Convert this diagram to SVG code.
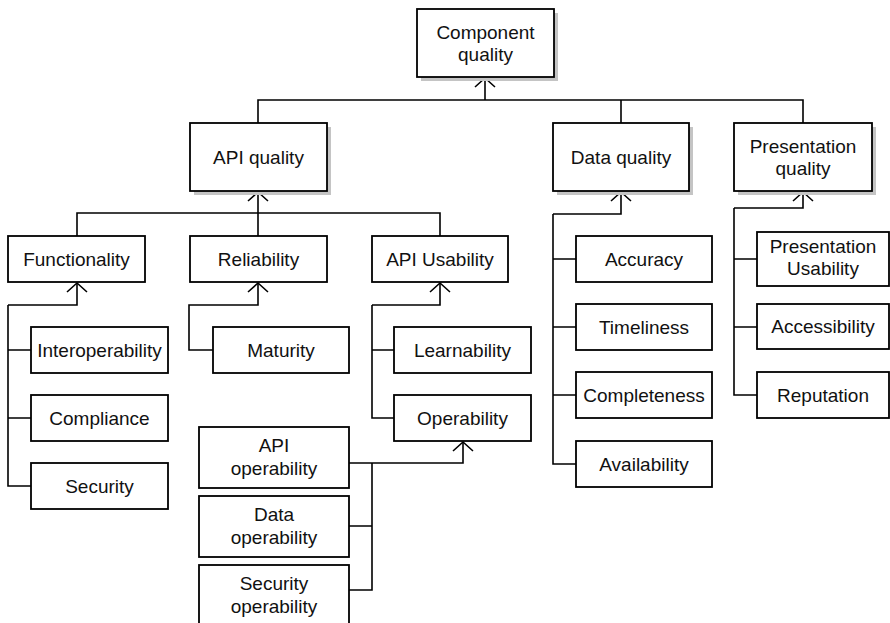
<svg xmlns="http://www.w3.org/2000/svg" width="890" height="623" viewBox="0 0 890 623">
<style>
.box{fill:#fff;stroke:#000;stroke-width:1.8}
.sh{fill:#c4c4c4}
.t{font-family:"Liberation Sans",Arial,sans-serif;font-size:19px;fill:#111;text-anchor:middle}
.c{fill:none;stroke:#000;stroke-width:1.6}
</style>
<defs>
<marker id="arr" markerUnits="userSpaceOnUse" markerWidth="24" markerHeight="24" refX="0" refY="0" viewBox="-12 -12 24 24" orient="auto" overflow="visible">
<path d="M-9,-10 L0,0 L-9,10" fill="none" stroke="#000" stroke-width="1.6"/>
</marker>
</defs>
<rect width="890" height="623" fill="#fff"/>
<g id="connectors">
<path class="c" d="M258,123 V100 H803 V123 M621,100 V123"/>
<path class="c" d="M485,100 V78" marker-end="url(#arr)"/>
<path class="c" d="M77,236 V213 H440 V236 M258,213 V236"/>
<path class="c" d="M258,213 V192" marker-end="url(#arr)"/>
<path class="c" d="M8,305 V486 H31 M8,350 H31 M8,418 H31"/>
<path class="c" d="M8,305 H77 V283" marker-end="url(#arr)"/>
<path class="c" d="M213,350 H189 V305 H258 V283" marker-end="url(#arr)"/>
<path class="c" d="M372,305 V418 H394 M372,350 H394"/>
<path class="c" d="M372,305 H440 V283" marker-end="url(#arr)"/>
<path class="c" d="M349,463 H463 V442" marker-end="url(#arr)"/>
<path class="c" d="M372,463 V590 H349 M349,526 H372"/>
<path class="c" d="M553,214 V464 H576 M553,259 H576 M553,327 H576 M553,395 H576"/>
<path class="c" d="M553,214 H621 V192" marker-end="url(#arr)"/>
<path class="c" d="M734,208 V395 H757 M734,259 H757 M734,327 H757"/>
<path class="c" d="M734,208 H803 V192" marker-end="url(#arr)"/>
</g>
<g id="component-quality">
<rect class="sh" x="421" y="13" width="137" height="68"/>
<rect class="box" x="417" y="9" width="137" height="68"/>
<text class="t" x="485.5" y="38.5">Component</text>
<text class="t" x="485.5" y="60.5">quality</text>
</g>
<g id="api-quality">
<rect class="sh" x="194" y="127" width="137" height="68"/>
<rect class="box" x="190" y="123" width="137" height="68"/>
<text class="t" x="258.5" y="163.5">API quality</text>
</g>
<g id="data-quality">
<rect class="sh" x="557" y="127" width="136" height="68"/>
<rect class="box" x="553" y="123" width="136" height="68"/>
<text class="t" x="621" y="163.5">Data quality</text>
</g>
<g id="presentation-quality">
<rect class="sh" x="738" y="127" width="138" height="68"/>
<rect class="box" x="734" y="123" width="138" height="68"/>
<text class="t" x="803" y="152.5">Presentation</text>
<text class="t" x="803" y="174.5">quality</text>
</g>
<g id="functionality">
<rect class="box" x="8" y="236" width="137" height="46"/>
<text class="t" x="76.5" y="265.5">Functionality</text>
</g>
<g id="reliability">
<rect class="box" x="190" y="236" width="137" height="46"/>
<text class="t" x="258.5" y="265.5">Reliability</text>
</g>
<g id="api-usability">
<rect class="box" x="372" y="236" width="136" height="46"/>
<text class="t" x="440" y="265.5">API Usability</text>
</g>
<g id="interoperability">
<rect class="box" x="31" y="327" width="137" height="46"/>
<text class="t" x="99.5" y="356.5">Interoperability</text>
</g>
<g id="compliance">
<rect class="box" x="31" y="395" width="137" height="46"/>
<text class="t" x="99.5" y="424.5">Compliance</text>
</g>
<g id="security">
<rect class="box" x="31" y="463" width="137" height="46"/>
<text class="t" x="99.5" y="492.5">Security</text>
</g>
<g id="maturity">
<rect class="box" x="213" y="327" width="136" height="46"/>
<text class="t" x="281" y="356.5">Maturity</text>
</g>
<g id="learnability">
<rect class="box" x="394" y="327" width="137" height="46"/>
<text class="t" x="462.5" y="356.5">Learnability</text>
</g>
<g id="operability">
<rect class="box" x="394" y="395" width="137" height="46"/>
<text class="t" x="462.5" y="424.5">Operability</text>
</g>
<g id="api-operability">
<rect class="box" x="199" y="427" width="150" height="61"/>
<text class="t" x="274" y="452">API</text>
<text class="t" x="274" y="475">operability</text>
</g>
<g id="data-operability">
<rect class="box" x="199" y="496" width="150" height="61"/>
<text class="t" x="274" y="521">Data</text>
<text class="t" x="274" y="544">operability</text>
</g>
<g id="security-operability">
<rect class="box" x="199" y="565" width="150" height="64"/>
<text class="t" x="274" y="590">Security</text>
<text class="t" x="274" y="613">operability</text>
</g>
<g id="accuracy">
<rect class="box" x="576" y="236" width="136" height="46"/>
<text class="t" x="644" y="265.5">Accuracy</text>
</g>
<g id="timeliness">
<rect class="box" x="576" y="304" width="136" height="46"/>
<text class="t" x="644" y="333.5">Timeliness</text>
</g>
<g id="completeness">
<rect class="box" x="576" y="372" width="136" height="46"/>
<text class="t" x="644" y="401.5">Completeness</text>
</g>
<g id="availability">
<rect class="box" x="576" y="441" width="136" height="46"/>
<text class="t" x="644" y="470.5">Availability</text>
</g>
<g id="presentation-usability">
<rect class="box" x="757" y="232" width="132" height="54"/>
<text class="t" x="823" y="252.5">Presentation</text>
<text class="t" x="823" y="275">Usability</text>
</g>
<g id="accessibility">
<rect class="box" x="757" y="304" width="132" height="45"/>
<text class="t" x="823" y="333">Accessibility</text>
</g>
<g id="reputation">
<rect class="box" x="757" y="372" width="132" height="46"/>
<text class="t" x="823" y="401.5">Reputation</text>
</g>
</svg>
